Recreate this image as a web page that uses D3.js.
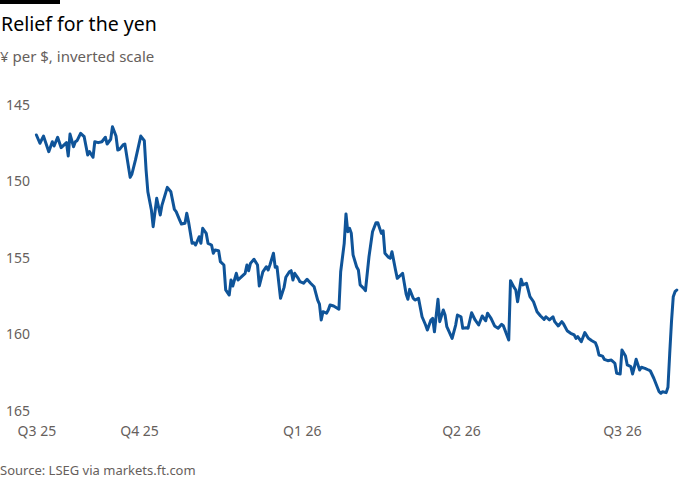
<!DOCTYPE html>
<html>
<head>
<meta charset="utf-8">
<script src="https://cdn.jsdelivr.net/npm/d3@7"></script>
<style>
    body { margin: 0; background: #fff; }
    svg { display: block; font-family: "Noto Sans", sans-serif; }
</style>
</head>
<body>
<svg id="base" width="700" height="500"></svg>
<script>
let dates = [
    "2025-08-04", "2025-08-06", "2025-08-08", "2025-08-11", "2025-08-13", "2025-08-14", "2025-08-16", "2025-08-18",
    "2025-08-21", "2025-08-22", "2025-08-23", "2025-08-25", "2025-08-26", "2025-08-27", "2025-08-29", "2025-08-31",
    "2025-09-02", "2025-09-03", "2025-09-05", "2025-09-06", "2025-09-08", "2025-09-10", "2025-09-12", "2025-09-13",
    "2025-09-15", "2025-09-16", "2025-09-18", "2025-09-19", "2025-09-20", "2025-09-22", "2025-09-23", "2025-09-26",
    "2025-09-27", "2025-09-29", "2025-10-02", "2025-10-04", "2025-10-05", "2025-10-06", "2025-10-08", "2025-10-09",
    "2025-10-11", "2025-10-13", "2025-10-14", "2025-10-17", "2025-10-19", "2025-10-21", "2025-10-22", "2025-10-24",
    "2025-10-25", "2025-10-27", "2025-10-28", "2025-10-29", "2025-10-31", "2025-11-01", "2025-11-02", "2025-11-04",
    "2025-11-05", "2025-11-06", "2025-11-08", "2025-11-09", "2025-11-11", "2025-11-12", "2025-11-13", "2025-11-15",
    "2025-11-16", "2025-11-18", "2025-11-19", "2025-11-21", "2025-11-22", "2025-11-23", "2025-11-25", "2025-11-26",
    "2025-11-28", "2025-11-30", "2025-12-01", "2025-12-02", "2025-12-03", "2025-12-05", "2025-12-07", "2025-12-08",
    "2025-12-10", "2025-12-12", "2025-12-13", "2025-12-14", "2025-12-16", "2025-12-17", "2025-12-18", "2025-12-20",
    "2025-12-22", "2025-12-23", "2025-12-25", "2025-12-26", "2025-12-27", "2025-12-28", "2025-12-30", "2025-12-31",
    "2026-01-02", "2026-01-04", "2026-01-06", "2026-01-08", "2026-01-10", "2026-01-11", "2026-01-12", "2026-01-13",
    "2026-01-15", "2026-01-16", "2026-01-17", "2026-01-19", "2026-01-22", "2026-01-23", "2026-01-25", "2026-01-26",
    "2026-01-27", "2026-01-28", "2026-01-29", "2026-01-30", "2026-02-01", "2026-02-02", "2026-02-03", "2026-02-05",
    "2026-02-06", "2026-02-08", "2026-02-10", "2026-02-12", "2026-02-13", "2026-02-15", "2026-02-16", "2026-02-17",
    "2026-02-19", "2026-02-20", "2026-02-21", "2026-02-23", "2026-02-24", "2026-02-26", "2026-02-27", "2026-03-01",
    "2026-03-02", "2026-03-03", "2026-03-05", "2026-03-06", "2026-03-08", "2026-03-10", "2026-03-12", "2026-03-13",
    "2026-03-15", "2026-03-16", "2026-03-17", "2026-03-19", "2026-03-20", "2026-03-22", "2026-03-23", "2026-03-24",
    "2026-03-27", "2026-03-29", "2026-03-30", "2026-04-01", "2026-04-02", "2026-04-04", "2026-04-05", "2026-04-07",
    "2026-04-09", "2026-04-11", "2026-04-13", "2026-04-15", "2026-04-16", "2026-04-18", "2026-04-20", "2026-04-22",
    "2026-04-24", "2026-04-25", "2026-04-28", "2026-04-29", "2026-05-01", "2026-05-02", "2026-05-03", "2026-05-05",
    "2026-05-06", "2026-05-08", "2026-05-10", "2026-05-12", "2026-05-14", "2026-05-16", "2026-05-18", "2026-05-19",
    "2026-05-21", "2026-05-23", "2026-05-24", "2026-05-26", "2026-05-28", "2026-05-29", "2026-05-31", "2026-06-02",
    "2026-06-04", "2026-06-05", "2026-06-06", "2026-06-08", "2026-06-10", "2026-06-12", "2026-06-14", "2026-06-16",
    "2026-06-17", "2026-06-18", "2026-06-20", "2026-06-21", "2026-06-23", "2026-06-25", "2026-06-27", "2026-06-28",
    "2026-06-30", "2026-07-01", "2026-07-03", "2026-07-04", "2026-07-06", "2026-07-07", "2026-07-08", "2026-07-09",
    "2026-07-11", "2026-07-12", "2026-07-14", "2026-07-16", "2026-07-17", "2026-07-19", "2026-07-20", "2026-07-22",
    "2026-07-23", "2026-07-24", "2026-07-26", "2026-07-27", "2026-07-28", "2026-07-29", "2026-07-30", "2026-07-31",
    "2026-08-01"
]

let yenPerDollar = [
    146.96, 147.50, 147.03, 148.05, 147.40, 147.68, 147.11, 147.79,
    147.46, 148.33, 146.90, 147.73, 147.40, 147.33, 146.85, 147.07,
    148.27, 148.05, 148.42, 147.40, 147.46, 147.40, 147.11, 147.55,
    147.24, 146.42, 147.03, 147.94, 147.90, 147.61, 147.55, 149.73,
    149.51, 148.59, 147.03, 147.33, 149.25, 150.67, 151.86, 152.95,
    151.10, 152.19, 151.54, 150.38, 150.67, 151.82, 151.97, 152.52,
    152.78, 152.73, 152.08, 152.63, 154.04, 154.00, 154.15, 153.61,
    154.04, 153.06, 153.39, 154.04, 154.15, 154.69, 154.48, 154.52,
    155.24, 155.46, 157.09, 157.42, 156.44, 156.83, 156.00, 156.44,
    156.22, 156.00, 155.46, 155.83, 155.35, 155.08, 155.46, 156.83,
    155.90, 155.57, 155.78, 155.46, 154.69, 155.61, 155.57, 157.63,
    156.92, 156.26, 155.90, 155.83, 156.44, 156.00, 156.33, 156.55,
    156.65, 156.39, 156.65, 156.88, 157.75, 158.01, 159.05, 158.51,
    158.61, 158.40, 158.07, 158.14, 158.35, 155.90, 154.04, 152.12,
    153.28, 153.06, 153.39, 154.80, 155.57, 155.78, 156.76, 156.98,
    157.14, 154.92, 153.28, 152.69, 152.69, 153.39, 153.22, 154.69,
    154.95, 155.02, 154.59, 155.78, 156.33, 156.11, 156.00, 157.35,
    157.70, 157.05, 157.63, 157.75, 157.63, 158.84, 159.38, 159.71,
    159.05, 158.94, 159.82, 157.70, 159.16, 158.40, 158.73, 159.49,
    160.25, 159.38, 158.73, 158.84, 159.59, 159.56, 159.59, 158.58,
    159.05, 159.38, 158.79, 159.10, 158.61, 158.94, 159.44, 159.59,
    159.33, 159.44, 160.36, 156.48, 156.92, 157.09, 157.86, 156.39,
    156.76, 156.65, 157.53, 157.86, 158.51, 158.79, 159.01, 158.84,
    159.05, 158.84, 159.16, 159.44, 159.16, 159.31, 159.75, 159.92,
    160.03, 160.25, 160.14, 160.47, 159.88, 160.25, 160.41, 160.54,
    160.84, 161.34, 161.41, 161.62, 161.71, 161.67, 161.88, 162.54,
    162.58, 161.01, 161.41, 161.99, 162.10, 162.58, 162.14, 161.62,
    162.32, 162.14, 162.21, 162.32, 162.37, 162.86, 163.15, 163.74,
    163.84, 163.74, 163.80, 163.45, 161.23, 159.16, 157.53, 157.20,
    157.09
]

let yTicks = [145, 150, 155, 160, 165]
let xTickDates = ["2025-08-04", "2025-10-01", "2026-01-01", "2026-04-01", "2026-07-01"]
let xTickLabels = ["Q3 25", "Q4 25", "Q1 26", "Q2 26", "Q3 26"]

let parseDate = d3.timeParse("%Y-%m-%d")
let series = dates.map((d, i) => ({ date: parseDate(d), value: yenPerDollar[i] }))

const base = d3.select('#base')
let grey = "#66605c"

let x = d3.scaleTime()
    .domain([parseDate("2025-08-04"), parseDate("2026-08-01")])
    .range([36.4, 676.8])

// inverted scale: stronger yen (lower number) at top
let y = d3.scaleLinear()
    .domain([145, 165])
    .range([105, 411])

base.append('rect')
    .attr("x", 0)
    .attr("y", 0)
    .attr("width", 60)
    .attr("height", 4)
    .style("fill", "#000")

base.append('text')
    .attr("x", 1)
    .attr("y", 31)
    .style("font-size", "19.5px")
    .style("fill", "#000")
    .text("Relief for the yen")

base.append('text')
    .attr("x", 0)
    .attr("y", 62)
    .style("font-size", "15px")
    .style("fill", grey)
    .text("¥ per $, inverted scale")

let yAxis = d3.axisLeft(y).tickValues(yTicks).tickSize(0).tickPadding(0)
let yg = base.append('g')
    .attr("transform", "translate(6,0)")
    .call(yAxis)
yg.select(".domain").remove()
yg.selectAll("text")
    .attr("text-anchor", "start")
    .style("font-family", "Noto Sans, sans-serif")
    .style("font-size", "14px")
    .style("fill", grey)

let xAxis = d3.axisBottom(x)
    .tickValues(xTickDates.map(parseDate))
    .tickFormat((d, i) => xTickLabels[i])
    .tickSize(0)
    .tickPadding(0)
let xg = base.append('g')
    .attr("transform", "translate(0,426)")
    .call(xAxis)
xg.select(".domain").remove()
xg.selectAll("text")
    .style("font-family", "Noto Sans, sans-serif")
    .style("font-size", "14px")
    .style("fill", grey)

let line = d3.line()
    .x(d => x(d.date))
    .y(d => y(d.value))

base.append('path')
    .datum(series)
    .attr("d", line)
    .style("fill", "none")
    .style("stroke", "#0f5499")
    .style("stroke-width", 3)
    .style("stroke-linejoin", "round")
    .style("stroke-linecap", "round")

base.append('text')
    .attr("x", 0)
    .attr("y", 475)
    .style("font-size", "13px")
    .style("fill", grey)
    .text("Source: LSEG via markets.ft.com")
</script>
</body>
</html>
